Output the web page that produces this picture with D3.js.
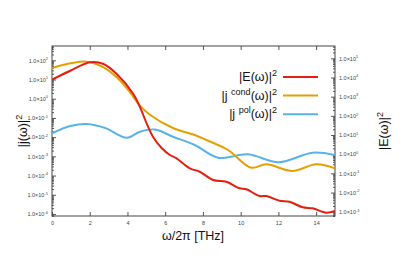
<!DOCTYPE html>
<html>
<head>
<meta charset="utf-8">
<script src="https://cdn.jsdelivr.net/npm/d3@7"></script>
<style>
body { margin: 0; background: #fff; }
text { font-family: "Liberation Sans", Arial, sans-serif; }
</style>
</head>
<body>
<svg id="chart" width="399" height="279"></svg>
<script>
// |E(w)|^2, right axis
const freqE = [0, 0.97, 2.02, 2.73, 3.43, 4.31, 4.63, 5.09, 5.35, 5.81, 6.25, 6.60, 7.31, 7.83, 8.54, 9.24, 9.94, 10.30, 11.0, 11.36, 12.06, 12.59, 13.29, 13.82, 14.53, 15]
const valE = [7660, 22500, 61800, 50400, 15200, 1380, 338, 27.2, 8.17, 2.10, 0.908, 0.611, 0.184, 0.122, 0.0452, 0.0368, 0.0167, 0.0148, 0.00662, 0.00662, 0.00377, 0.00334, 0.0017, 0.00151, 0.00089, 0.00109]

// |j_cond(w)|^2, left axis
const freqCond = [0, 0.97, 1.85, 2.73, 3.43, 4.14, 4.66, 5.19, 6.41, 7.57, 8.19, 9.33, 10.56, 11.36, 12.75, 14.0, 15]
const valCond = [39.7, 69.8, 84.6, 43.2, 13.0, 2.16, 0.434, 0.147, 0.0299, 0.0129, 0.0071, 0.00214, 0.000256, 0.000385, 0.000173, 0.000385, 0.000239]

// |j_pol(w)|^2, left axis
const freqPol = [0, 0.97, 1.85, 2.82, 3.96, 4.66, 5.46, 6.41, 7.57, 8.80, 10.39, 12.02, 13.80, 15]
const valPol = [0.0158, 0.038, 0.0483, 0.0299, 0.00935, 0.0192, 0.025, 0.0105, 0.0039, 0.00085, 0.00128, 0.00049, 0.00155, 0.00117]

const xTicks = [0, 2, 4, 6, 8, 10, 12, 14]

const svg = d3.select("#chart")
const mLeft = 52, mRight = 335, mTop = 46, mBottom = 216

const x = d3.scaleLinear().domain([0, 15]).range([mLeft, mRight])
const yL = d3.scaleLog().domain([7.85e-7, 555]).range([mBottom, mTop])
const yR = d3.scaleLog().domain([6.0e-4, 4.38e5]).range([mBottom, mTop])

function logTicks(scale, majors) {
    const [a, b] = scale.domain()
    const out = []
    for (let k = Math.floor(Math.log10(a)); k <= Math.ceil(Math.log10(b)); k++) {
        for (let m = 1; m < 10; m++) {
            const v = m * Math.pow(10, k)
            if (v >= a && v <= b && (m === 1) === majors) out.push(v)
        }
    }
    return out
}

function supLabels(g) {
    g.selectAll(".tick text").each(function(d) {
        const t = d3.select(this)
        const k = Math.round(Math.log10(d))
        t.text(null).attr("font-size", 5.5).attr("fill", "#444")
        t.append("tspan").text("1.0×10")
        t.append("tspan").attr("dy", -2.5).attr("font-size", 4).text(k)
    })
    g.select(".domain").remove()
    g.selectAll(".tick line").attr("stroke", "#555")
}

// left axis
const gL = svg.append("g").attr("transform", `translate(${mLeft},0)`)
    .call(d3.axisLeft(yL).tickValues(logTicks(yL, true)).tickSize(-4).tickPadding(4))
supLabels(gL)
svg.append("g").attr("transform", `translate(${mLeft},0)`)
    .call(d3.axisLeft(yL).tickValues(logTicks(yL, false)).tickSize(-2).tickFormat(""))
    .call(g => { g.select(".domain").remove(); g.selectAll("line").attr("stroke", "#555") })

// right axis
const gR = svg.append("g").attr("transform", `translate(${mRight},0)`)
    .call(d3.axisRight(yR).tickValues(logTicks(yR, true)).tickSize(-4).tickPadding(4))
supLabels(gR)
svg.append("g").attr("transform", `translate(${mRight},0)`)
    .call(d3.axisRight(yR).tickValues(logTicks(yR, false)).tickSize(-2).tickFormat(""))
    .call(g => { g.select(".domain").remove(); g.selectAll("line").attr("stroke", "#555") })

// bottom and top axes
svg.append("g").attr("transform", `translate(0,${mBottom})`)
    .call(d3.axisBottom(x).tickValues(xTicks).tickSize(-4).tickPadding(5))
    .call(g => {
        g.select(".domain").remove()
        g.selectAll("line").attr("stroke", "#555")
        g.selectAll("text").attr("font-size", 5.5).attr("fill", "#444")
    })
svg.append("g").attr("transform", `translate(0,${mTop})`)
    .call(d3.axisTop(x).tickValues(xTicks).tickSize(-4).tickFormat(""))
    .call(g => { g.select(".domain").remove(); g.selectAll("line").attr("stroke", "#555") })

// frame
svg.append("rect")
    .attr("x", mLeft).attr("y", mTop)
    .attr("width", mRight - mLeft).attr("height", mBottom - mTop)
    .attr("fill", "none").attr("stroke", "#444").attr("stroke-width", 1)

// curves
const clip = svg.append("clipPath").attr("id", "clip")
clip.append("rect").attr("x", mLeft).attr("y", mTop).attr("width", mRight - mLeft).attr("height", mBottom - mTop)
const plot = svg.append("g").attr("clip-path", "url(#clip)")

const series = [
    {xs: freqPol, ys: valPol, y: yL, color: "#56b4e9"},
    {xs: freqCond, ys: valCond, y: yL, color: "#e69f00"},
    {xs: freqE, ys: valE, y: yR, color: "#e51e10"}
]
series.forEach(s => {
    const line = d3.line()
        .x((d, i) => x(s.xs[i]))
        .y(d => s.y(d))
        .curve(d3.curveCatmullRom.alpha(0.5))
    plot.append("path")
        .attr("fill", "none")
        .attr("stroke", s.color)
        .attr("stroke-width", 2)
        .attr("d", line(s.ys))
})

// legend
const legend = [
    {name: "|E(ω)|", sup: null, color: "#e51e10"},
    {name: "|j ", sup: "cond", color: "#e69f00"},
    {name: "|j ", sup: "pol", color: "#56b4e9"}
]
legend.forEach((d, i) => {
    const yy = 77 + i * 18.6
    const t = svg.append("text").attr("x", 277).attr("y", yy + 4)
        .attr("text-anchor", "end").attr("font-size", 12.5).attr("fill", "#111")
    t.append("tspan").text(d.name)
    if (d.sup) {
        t.append("tspan").attr("dy", -5).attr("font-size", 9).text(d.sup)
        t.append("tspan").attr("dy", 5).text("(ω)|")
    }
    t.append("tspan").attr("dy", -5).attr("font-size", 9).text("2")
    svg.append("line").attr("x1", 283).attr("x2", 318)
        .attr("y1", yy).attr("y2", yy)
        .attr("stroke", d.color).attr("stroke-width", 2)
})

// axis titles
svg.append("text").attr("x", 193).attr("y", 240).attr("text-anchor", "middle")
    .attr("font-size", 12.5).attr("fill", "#111").text("ω/2π [THz]")

const tl = svg.append("text").attr("transform", "translate(27,131) rotate(-90)")
    .attr("text-anchor", "middle").attr("font-size", 12.5).attr("fill", "#111")
tl.append("tspan").text("|j(ω)|")
tl.append("tspan").attr("dy", -5).attr("font-size", 9).text("2")

const tr = svg.append("text").attr("transform", "translate(388,131) rotate(-90)")
    .attr("text-anchor", "middle").attr("font-size", 12.5).attr("fill", "#111")
tr.append("tspan").text("|E(ω)|")
tr.append("tspan").attr("dy", -5).attr("font-size", 9).text("2")
</script>
</body>
</html>
